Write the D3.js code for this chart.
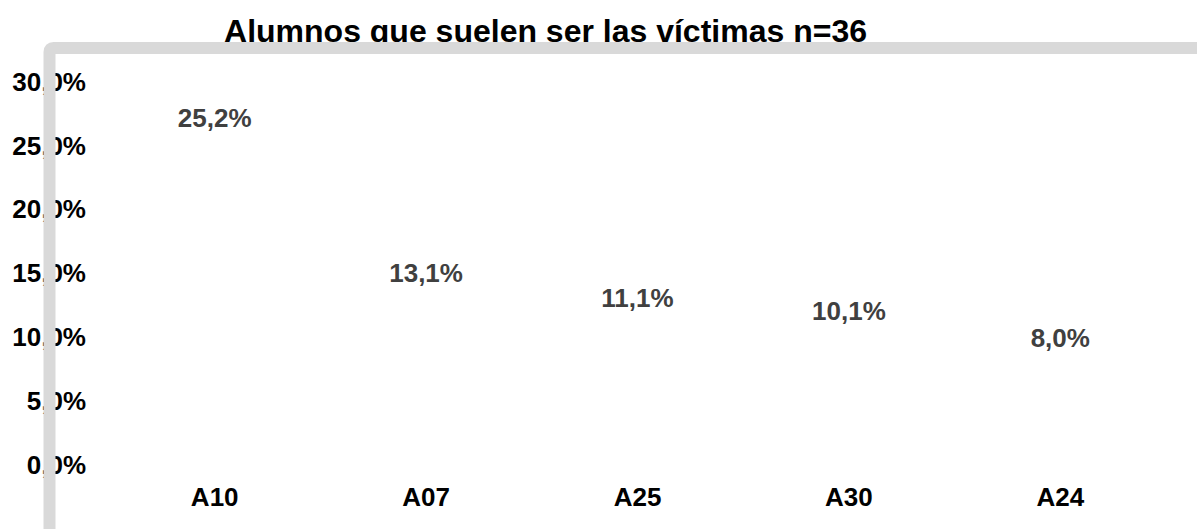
<!DOCTYPE html>
<html lang="es">
<head>
    <meta charset="UTF-8">
    <script src="https://cdn.jsdelivr.net/npm/d3@7"></script>
    <title>Alumnos que suelen ser las víctimas</title>
    <style>
        body {
            margin: 0;
            background: white;
        }

        svg text {
            font-family: "Liberation Sans", Arial, sans-serif;
            font-weight: bold;
        }
    </style>
</head>
<body>
    <div id="chart"></div>

    <script>
        /*------------------- data --------------------*/
        const titleText = "Alumnos que suelen ser las víctimas n=36";
        const categories = ["A10", "A07", "A25", "A30", "A24"];
        const values = [25.2, 13.1, 11.1, 10.1, 8.0];
        const yTicks = [0, 5, 10, 15, 20, 25, 30];

        /*------------------- setup --------------------*/
        const width = 1197;
        const height = 529;

        const es = d3.formatLocale({ decimal: ",", thousands: ".", grouping: [3], currency: ["", " €"] });
        const fmt = es.format(".1f");

        const svg = d3.select("#chart").append("svg")
            .attr("width", width)
            .attr("height", height);

        const x = d3.scaleBand()
            .domain(categories)
            .range([109, 1166])
            .paddingInner(0.3)
            .paddingOuter(0.15);

        const y = d3.scaleLinear()
            .domain([0, 30])
            .range([465, 82]);

        // title (gets partly covered by the frame below)
        svg.append("text")
            .attr("x", 545.5)
            .attr("y", 42)
            .attr("text-anchor", "middle")
            .style("font-size", "32px")
            .attr("fill", "#000")
            .text(titleText);

        // bars are white, only labels show
        svg.selectAll("rect.bar")
            .data(values)
            .enter()
            .append("rect")
            .attr("class", "bar")
            .attr("x", (d, i) => x(categories[i]))
            .attr("width", x.bandwidth())
            .attr("y", d => y(d))
            .attr("height", d => y(0) - y(d))
            .attr("fill", "white");

        svg.selectAll("text.val")
            .data(values)
            .enter()
            .append("text")
            .attr("class", "val")
            .attr("x", (d, i) => x(categories[i]) + x.bandwidth() / 2)
            .attr("y", d => y(d) - 16)
            .attr("text-anchor", "middle")
            .style("font-size", "26px")
            .attr("fill", "#404040")
            .text(d => fmt(d) + "%");

        // y axis
        const yAxis = svg.append("g")
            .attr("transform", "translate(95,0)")
            .call(d3.axisLeft(y).tickValues(yTicks).tickSize(0).tickPadding(9)
                .tickFormat(d => fmt(d) + "%"));
        yAxis.select(".domain").remove();
        yAxis.selectAll("text")
            .style("font-size", "26px")
            .style("font-family", "'Liberation Sans', Arial, sans-serif")
            .style("font-weight", "bold")
            .attr("fill", "#000");

        // x axis
        const xAxis = svg.append("g")
            .attr("transform", `translate(0,${y(0)})`)
            .call(d3.axisBottom(x).tickSize(0).tickPadding(23));
        xAxis.select(".domain").remove();
        xAxis.selectAll("text")
            .style("font-size", "26px")
            .style("font-family", "'Liberation Sans', Arial, sans-serif")
            .style("font-weight", "bold")
            .attr("fill", "#000");

        // grey frame on top
        svg.append("path")
            .attr("d", "M49.5,540 V52 Q49.5,48 53.5,48 H1210")
            .attr("fill", "none")
            .attr("stroke", "#d9d9d9")
            .attr("stroke-width", 12);
    </script>
</body>
</html>
